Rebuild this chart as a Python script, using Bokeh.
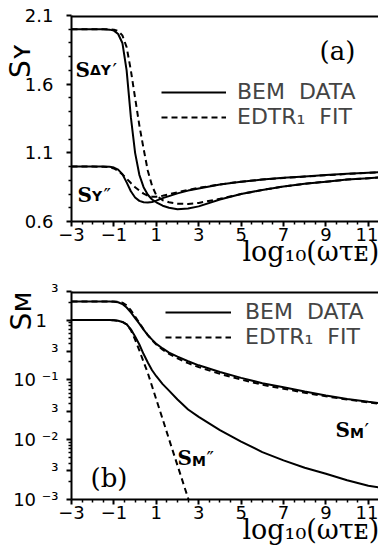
from bokeh.plotting import figure
from bokeh.models import FixedTicker, Label, Legend, LegendItem, Span
from bokeh.layouts import column
from bokeh.embed import file_html
from bokeh.resources import INLINE

# ---------------- data: panel (a) ----------------
x_a = [-3, -2, -1.5, -1.2, -1.0, -0.8, -0.6, -0.4, -0.2, 0.0, 0.2, 0.4, 0.6, 0.8, 1.0,
       1.3, 1.6, 2.0, 2.5, 3.0, 4.0, 5.0, 6.0, 7.0, 8.0, 9.0, 10.0, 11.0, 11.5]
sdy_bem = [2.0, 2.0, 2.0, 1.997, 1.99, 1.965, 1.90, 1.70, 1.36, 1.10, 0.94, 0.85, 0.795, 0.76, 0.74,
           0.715, 0.70, 0.69, 0.695, 0.71, 0.76, 0.80, 0.83, 0.855, 0.875, 0.89, 0.905, 0.915, 0.92]
sdy_fit = [2.0, 2.0, 2.0, 2.0, 1.997, 1.987, 1.955, 1.87, 1.70, 1.50, 1.30, 1.13, 0.97, 0.86, 0.79,
           0.755, 0.74, 0.73, 0.728, 0.735, 0.765, 0.80, 0.83, 0.855, 0.875, 0.89, 0.905, 0.915, 0.92]
sy2_bem = [1.0, 1.0, 1.0, 0.998, 0.993, 0.978, 0.945, 0.885, 0.82, 0.775, 0.75, 0.74, 0.738, 0.742, 0.752,
           0.77, 0.785, 0.805, 0.825, 0.84, 0.87, 0.89, 0.905, 0.918, 0.928, 0.938, 0.947, 0.955, 0.958]
sy2_fit = [1.0, 1.0, 0.999, 0.995, 0.986, 0.968, 0.943, 0.912, 0.88, 0.85, 0.825, 0.803, 0.788, 0.78, 0.78,
           0.788, 0.798, 0.813, 0.83, 0.845, 0.87, 0.89, 0.905, 0.917, 0.927, 0.937, 0.946, 0.954, 0.957]

# ---------------- data: panel (b) ----------------
x_b = x_a
sm1_bem = [2.05, 2.05, 2.05, 2.045, 2.03, 1.98, 1.85, 1.62, 1.34, 1.08, 0.87, 0.69, 0.56, 0.47, 0.40,
           0.335, 0.285, 0.245, 0.205, 0.175, 0.135, 0.108, 0.088, 0.075, 0.064, 0.055, 0.048, 0.043, 0.041]
sm1_fit = [2.05, 2.05, 2.05, 2.05, 2.045, 2.02, 1.95, 1.76, 1.46, 1.15, 0.90, 0.70, 0.56, 0.46, 0.39,
           0.32, 0.272, 0.228, 0.19, 0.163, 0.126, 0.101, 0.083, 0.071, 0.061, 0.053, 0.047, 0.042, 0.040]
sm2_bem = [1.0, 1.0, 1.0, 0.998, 0.99, 0.97, 0.93, 0.85, 0.70, 0.53, 0.39, 0.27, 0.195, 0.145, 0.115,
           0.085, 0.066, 0.047, 0.032, 0.024, 0.0145, 0.0093, 0.0062, 0.0045, 0.0034, 0.0027, 0.0021, 0.0017, 0.0016]
x_b_fit2 = [-3, -2, -1.5, -1.2, -1.0, -0.8, -0.6, -0.4, -0.2, 0.0, 0.2, 0.4, 0.6, 0.8, 1.0,
            1.3, 1.6, 2.0, 2.5, 3.0]
sm2_fit = [1.0, 1.0, 1.0, 0.998, 0.99, 0.97, 0.93, 0.85, 0.68, 0.47, 0.31, 0.20, 0.13, 0.078, 0.047,
           0.022, 0.0102, 0.0037, 0.00105, 0.0003]

# ---------------- ticks / texts ----------------
x_major = [-3, -1, 1, 3, 5, 7, 9, 11]
x_minor = [-2.5, -2, -1.5, -0.5, 0, 0.5, 1.5, 2, 2.5, 3.5, 4, 4.5, 5.5, 6, 6.5, 7.5, 8, 8.5,
           9.5, 10, 10.5, 11.5]
x_labels = {-3: "\u22123", -1: "\u22121"}
ya_major = [0.6, 1.1, 1.6, 2.1]
ya_minor = [0.7, 0.8, 0.9, 1.0, 1.2, 1.3, 1.4, 1.5, 1.7, 1.8, 1.9, 2.0]
yb_major = [0.001, 0.003, 0.01, 0.03, 0.1, 0.3, 1, 3]
yb_minor = [0.002, 0.004, 0.005, 0.006, 0.007, 0.008, 0.009,
            0.02, 0.04, 0.05, 0.06, 0.07, 0.08, 0.09,
            0.2, 0.4, 0.5, 0.6, 0.7, 0.8, 0.9, 2]
yb_labels = {0.001: "10 \u207b\u00b3", 0.003: "\u00b3", 0.01: "10 \u207b\u00b2", 0.03: "\u00b3",
             0.1: "10 \u207b\u00b9", 0.3: "\u00b3", 1: "1\u00a0\u00a0", 3: "\u00b3"}

NB = "\u00a0"
# leading no-break spaces push the centred axis titles toward the far end of each axis
X_TITLE = NB * 20 + "log\u2081\u2080(\u03c9\u03c4\u1d07)"
YA_TITLE = NB * 13 + "S\u028f"
YB_TITLE = NB * 19 + "S\u1d0d"

LEG_BEM = "BEM\u00a0\u00a0DATA"
LEG_FIT = "EDTR\u2081\u00a0\u00a0FIT"

DASH = "6 4"


def style_axis(ax):
    ax.axis_line_width = 2
    ax.axis_line_color = "black"
    ax.major_tick_line_width = 2
    ax.minor_tick_line_width = 1.5
    ax.major_tick_out = 5
    ax.major_tick_in = 0
    ax.minor_tick_out = 3
    ax.minor_tick_in = 0
    ax.major_label_text_font = "DejaVu Sans"
    ax.major_label_text_font_size = "18px"
    ax.major_label_text_color = "black"
    ax.axis_label_text_font_style = "normal"
    ax.axis_label_text_color = "black"


def lab(p, x, y, text, dx=0, dy=0, size="20px", font="DejaVu Serif", style="normal"):
    p.add_layout(Label(x=x, y=y, x_offset=dx, y_offset=dy, text=text, text_font=font,
                       text_font_size=size, text_font_style=style, text_align="left",
                       text_baseline="alphabetic", text_color="black"))


def base_fig(y_range, y_type, height, btop, bbottom, top_value):
    p = figure(width=378, height=height, x_range=(-3, 11.48), y_range=y_range,
               y_axis_type=y_type, output_backend="svg", toolbar_location=None,
               min_border_left=71, min_border_right=0, min_border_top=btop,
               min_border_bottom=bbottom)
    p.outline_line_color = None
    p.xgrid.visible = False
    p.ygrid.visible = False
    p.background_fill_color = "white"
    p.border_fill_color = "white"
    xa = p.xaxis[0]
    xa.ticker = FixedTicker(ticks=x_major, minor_ticks=x_minor)
    xa.major_label_overrides = x_labels
    xa.major_label_standoff = 1
    style_axis(xa)
    style_axis(p.yaxis[0])
    xa.axis_label = X_TITLE
    xa.axis_label_text_font = "DejaVu Serif"
    xa.axis_label_text_font_size = "27px"
    xa.axis_label_standoff = -8
    p.add_layout(Span(location=top_value, dimension="width", line_color="black", line_width=4))
    return p


# ================= panel (a) =================
pa = base_fig((0.6, 2.1), "linear", 275, 15, 54, 2.1)
ya = pa.yaxis[0]
ya.ticker = FixedTicker(ticks=ya_major, minor_ticks=ya_minor)
ya.major_label_standoff = 13
ya.axis_label = YA_TITLE
ya.axis_label_text_font = "DejaVu Sans"
ya.axis_label_text_font_size = "28px"
ya.axis_label_standoff = -15

ra1 = pa.line(x_a, sdy_bem, line_color="black", line_width=2)
ra2 = pa.line(x_a, sdy_fit, line_color="black", line_width=2, line_dash=DASH)
pa.line(x_a, sy2_bem, line_color="black", line_width=2)
pa.line(x_a, sy2_fit, line_color="black", line_width=2, line_dash=DASH)

leg_a = Legend(items=[LegendItem(label=LEG_BEM, renderers=[ra1]),
                      LegendItem(label=LEG_FIT, renderers=[ra2])],
               location=(90, 92), glyph_width=65, glyph_height=20, label_standoff=11,
               spacing=0, padding=0, margin=0, border_line_color=None,
               background_fill_alpha=0, label_text_font="DejaVu Sans",
               label_text_font_size="22px")
pa.add_layout(leg_a)

lab(pa, -2.81, 1.70, "S", 0, 0, "20px", "DejaVu Serif", "bold")
lab(pa, -2.81, 1.70, "\u0394Y", 14.5, 0, "14px", "DejaVu Sans", "bold")
lab(pa, -2.81, 1.70, "\u2032", 37, 0, "20px", "DejaVu Sans")
lab(pa, -2.72, 0.79, "S", 0, 0, "20px", "DejaVu Serif", "bold")
lab(pa, -2.72, 0.79, "Y", 14.5, -1, "14px", "DejaVu Sans", "bold")
lab(pa, -2.72, 0.79, "\u2033", 26, 0, "20px", "DejaVu Sans")
lab(pa, 8.7, 1.845, "(a)", 0, 0, "26px", "DejaVu Serif")

# ================= panel (b) =================
pb = base_fig((0.001, 3), "log", 275, 16, 51, 3)
yb = pb.yaxis[0]
yb.ticker = FixedTicker(ticks=yb_major, minor_ticks=yb_minor)
yb.major_label_overrides = yb_labels
yb.major_label_standoff = 8
yb.axis_label = YB_TITLE
yb.axis_label_text_font = "DejaVu Sans"
yb.axis_label_text_font_size = "28px"
yb.axis_label_standoff = -28

rb1 = pb.line(x_b, sm1_bem, line_color="black", line_width=2)
rb2 = pb.line(x_b, sm1_fit, line_color="black", line_width=2, line_dash=DASH)
pb.line(x_b, sm2_bem, line_color="black", line_width=2)
pb.line(x_b_fit2, sm2_fit, line_color="black", line_width=2, line_dash=DASH)

leg_b = Legend(items=[LegendItem(label=LEG_BEM, renderers=[rb1]),
                      LegendItem(label=LEG_FIT, renderers=[rb2])],
               location=(94, 150), glyph_width=66, glyph_height=20, label_standoff=14,
               spacing=0, padding=0, margin=0, border_line_color=None,
               background_fill_alpha=0, label_text_font="DejaVu Sans",
               label_text_font_size="22px")
pb.add_layout(leg_b)

lab(pb, 9.45, 0.0147, "S", 0, 0, "20px", "DejaVu Serif", "bold")
lab(pb, 9.45, 0.0147, "M", 14.5, -3, "14px", "DejaVu Sans", "bold")
lab(pb, 9.45, 0.0147, "\u2032", 29, 0, "20px", "DejaVu Sans")
lab(pb, 2.0, 0.0049, "S", 0, 0, "20px", "DejaVu Serif", "bold")
lab(pb, 2.0, 0.0049, "M", 14.5, -3, "14px", "DejaVu Sans", "bold")
lab(pb, 2.0, 0.0049, "\u2033", 29, 0, "20px", "DejaVu Sans")
lab(pb, -2.1, 0.00226, "(b)", 0, 0, "26px", "DejaVu Serif")

layout = column(pa, pb)
open("out.html", "w").write(file_html(layout, INLINE))
